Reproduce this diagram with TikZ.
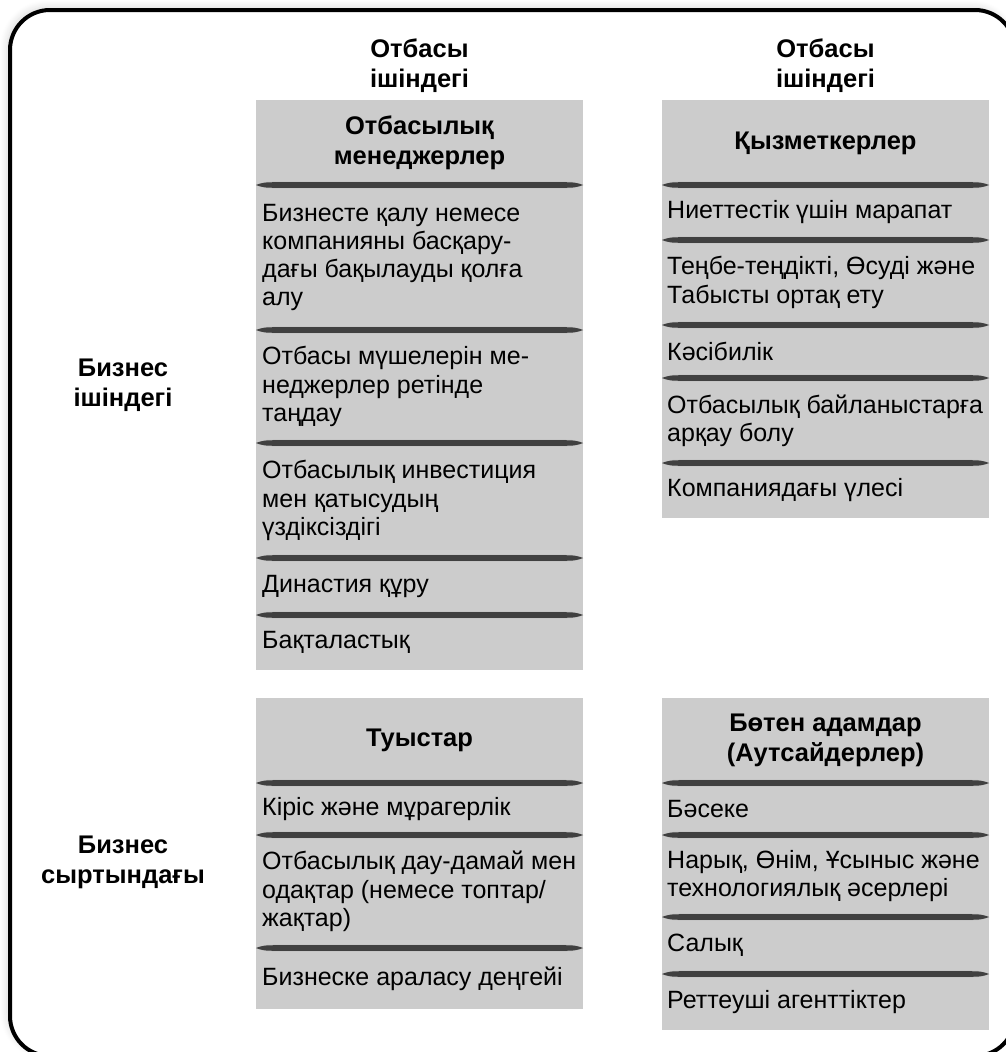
\documentclass[tikz,border=0pt]{standalone}
\usepackage{fontspec}
\setmainfont{Liberation Sans}
\usetikzlibrary{shadows.blur}
\definecolor{cellgray}{RGB}{204,204,204}
\definecolor{sepdark}{RGB}{64,64,64}
\tikzset{
  cellbox/.style = {fill=cellgray},
  itemtext/.style = {anchor=west, align=left, inner sep=0pt,
    font=\fontsize{25}{28.3}\selectfont},
  headtext/.style = {align=center, inner sep=0pt,
    font=\fontsize{25.5}{30}\selectfont\bfseries},
  outerframe/.style = {draw=black, line width=4pt, rounded corners=40pt, fill=white,
    blur shadow={shadow xshift=-3pt, shadow yshift=3pt, shadow blur steps=10,
      shadow blur radius=7pt, shadow opacity=14}},
}
% tapered separator: x left, x right, y
\newcommand{\sepline}[3]{%
  \fill[sepdark!35] (#1,#3) .. controls (#1+8,#3-3.3) .. (#1+28,#3-3.3)
    -- (#2-28,#3-3.3) .. controls (#2-8,#3-3.3) .. (#2,#3)
    .. controls (#2-8,#3+3.3) .. (#2-28,#3+3.3)
    -- (#1+28,#3+3.3) .. controls (#1+8,#3+3.3) .. (#1,#3) -- cycle;
  \fill[sepdark] (#1,#3) .. controls (#1+8,#3-2.8) .. (#1+28,#3-2.8)
    -- (#2-28,#3-2.8) .. controls (#2-8,#3-2.8) .. (#2,#3)
    .. controls (#2-8,#3+2.8) .. (#2-28,#3+2.8)
    -- (#1+28,#3+2.8) .. controls (#1+8,#3+2.8) .. (#1,#3) -- cycle;}
\begin{document}
\begin{tikzpicture}[x=1pt,y=-1pt]
  \useasboundingbox (0,0) rectangle (1006,1052);
  \clip (0,0) rectangle (1006,1052);
  \draw[outerframe] (10,10) rectangle (1015,1056);

  % column and row headings
  \node[headtext] (famL) at (419.5,66) {Отбасы\\ішіндегі};
  \node[headtext] (famR) at (825.5,66) {Отбасы\\ішіндегі};
  \node[headtext] (bizin) at (123,385) {Бизнес\\ішіндегі};
  \node[headtext] (bizout) at (123,862) {Бизнес\\сыртындағы};

  % grey cells
  \fill[cellbox] (256,100) rectangle (583,670);
  \fill[cellbox] (662,100) rectangle (989,518);
  \fill[cellbox] (256,698) rectangle (583,1009);
  \fill[cellbox] (662,698) rectangle (989,1030);

  \foreach \y in {185,330,443,558,615} {\sepline{256}{583}{\y}}
  \foreach \y in {185,240,325,378,463} {\sepline{662}{989}{\y}}
  \foreach \y in {783,835,948} {\sepline{256}{583}{\y}}
  \foreach \y in {783,835,917,974} {\sepline{662}{989}{\y}}

  %   family managers
  \node[headtext] (mgr) at (419.5,143) {Отбасылық\\менеджерлер};
  \node[itemtext] (mgr1) at (262,257.5) {Бизнесте қалу немесе\\компанияны басқару-\\дағы бақылауды қолға\\алу};
  \node[itemtext] (mgr2) at (262,386.5) {Отбасы мүшелерін ме-\\неджерлер ретінде\\таңдау};
  \node[itemtext] (mgr3) at (262,500.5) {Отбасылық инвестиция\\мен қатысудың\\үздіксіздігі};
  \node[itemtext] (mgr4) at (262,586.5) {Династия құру};
  \node[itemtext] (mgr5) at (262,642.5) {Бақталастық};

  %   employees
  \node[headtext] (emp) at (825.5,143) {Қызметкерлер};
  \node[itemtext] (emp1) at (667,212.5) {Ниеттестік үшін марапат};
  \node[itemtext] (emp2) at (667,282.5) {Теңбе-теңдікті, Өсуді және\\Табысты ортақ ету};
  \node[itemtext] (emp3) at (667,351.5) {Кәсібилік};
  \node[itemtext] (emp4) at (667,420.5) {Отбасылық байланыстарға\\арқау болу};
  \node[itemtext] (emp5) at (667,490.5) {Компаниядағы үлесі};

  %   relatives
  \node[headtext] (rel) at (419.5,740.5) {Туыстар};
  \node[itemtext] (rel1) at (262,809) {Кіріс және мұрагерлік};
  \node[itemtext] (rel2) at (262,891.5) {Отбасылық дау-дамай мен\\одақтар (немесе топтар/\\жақтар)};
  \node[itemtext] (rel3) at (262,978.5) {Бизнеске араласу деңгейі};

  %   outsiders
  \node[headtext] (out) at (825.5,740.5) {Бөтен адамдар\\(Аутсайдерлер)};
  \node[itemtext] (out1) at (667,809) {Бәсеке};
  \node[itemtext] (out2) at (667,876) {Нарық, Өнім, Ұсыныс және\\технологиялық әсерлері};
  \node[itemtext] (out3) at (667,945.5) {Салық};
  \node[itemtext] (out4) at (667,1002) {Реттеуші агенттіктер};
\end{tikzpicture}
\end{document}
